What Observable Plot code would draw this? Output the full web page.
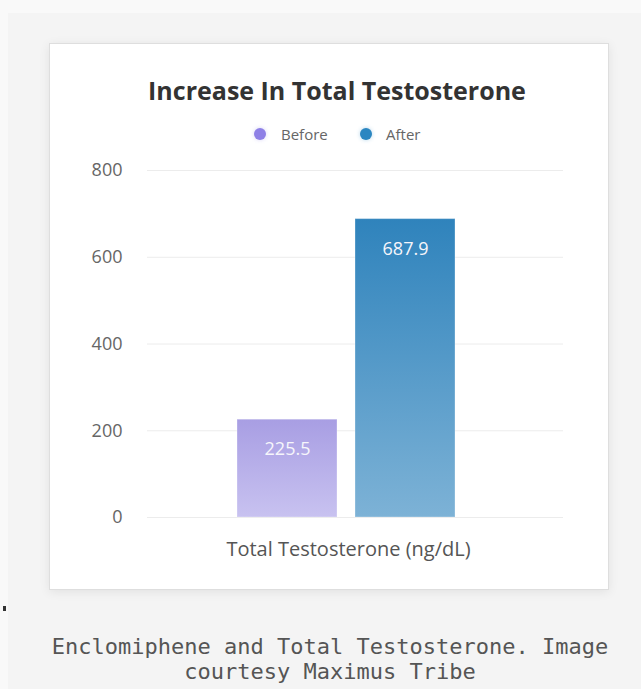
<!DOCTYPE html>
<html>
<head>
<meta charset="utf-8">
<script src="https://cdn.jsdelivr.net/npm/d3@7"></script>
<script src="https://cdn.jsdelivr.net/npm/@observablehq/plot@0.6"></script>
<style>
  html, body { margin: 0; padding: 0; }
  body {
    width: 641px; height: 689px; overflow: hidden; position: relative;
    background: #f9f9f9; font-family: "Open Sans", sans-serif;
  }
  .panel { position: absolute; left: 8px; top: 13px; right: 0; bottom: 0; background: #f4f4f4; }
  .card {
    position: absolute; left: 49px; top: 43px; width: 558px; height: 545px;
    background: #fff; border: 1px solid #dedede;
    box-shadow: 0 2px 10px rgba(0, 0, 0, 0.08);
  }
  .title {
    position: absolute; left: 137px; width: 400px; top: 75px; line-height: 30px;
    text-align: center; font-size: 25px; font-weight: 700; color: #333;
  }
  .legend-item {
    position: absolute; top: 124px; line-height: 20px; font-size: 15px; color: #666;
  }
  .legend-dot {
    position: absolute; width: 12px; height: 12px; border-radius: 50%; top: 128px;
  }
  #chart { position: absolute; left: 50px; top: 150px; }
  .caption {
    position: absolute; left: 30px; width: 600px; top: 634px; line-height: 25px;
    text-align: center; font-family: "DejaVu Sans Mono", monospace; font-size: 22px; color: #555;
  }
  .mark { position: absolute; left: 3px; top: 606px; width: 3px; height: 5px; background: #333; }
</style>
</head>
<body>
<div class="panel"></div>
<div class="mark"></div>
<div class="card"></div>
<div class="title">Increase In Total Testosterone</div>
<div id="legend"></div>
<div id="chart"></div>
<div class="caption">Enclomiphene and Total Testosterone. Image<br>courtesy Maximus Tribe</div>
<script>
// Chart data
const categories = ["Total Testosterone (ng/dL)"];
const series = ["Before", "After"];
const values = [225.5, 687.9];
const yTicks = [0, 200, 400, 600, 800];

// Series colours: solid swatch plus top/bottom gradient stops for the bars
const swatch = { Before: "#8e80e6", After: "#2b86c1" };
const gradTop = { Before: "#a89ee3", After: "#2f83bc" };
const gradBottom = { Before: "#c8c2f0", After: "#7db2d6" };

const rows = series.map((s, i) => ({ category: categories[0], series: s, value: values[i] }));

// Legend (HTML, above the plot)
const legend = document.getElementById("legend");
const legendPos = { Before: { dot: 254, text: 281 }, After: { dot: 360, text: 386 } };
series.forEach(s => {
  const dot = document.createElement("div");
  dot.className = "legend-dot";
  dot.style.left = legendPos[s].dot + "px";
  dot.style.background = swatch[s];
  dot.style.boxShadow = `0 0 4px ${swatch[s]}55`;
  legend.appendChild(dot);
  const label = document.createElement("div");
  label.className = "legend-item";
  label.style.left = legendPos[s].text + "px";
  label.textContent = s;
  legend.appendChild(label);
});

const chart = Plot.plot({
  width: 558,
  height: 425,
  marginTop: 20,
  marginBottom: 58,
  marginLeft: 97,
  marginRight: 45,
  style: { background: "transparent", fontFamily: "'Open Sans', sans-serif", color: "#666", overflow: "visible" },
  fx: { domain: categories, padding: 0, label: null },
  x: { domain: series, paddingInner: 0.15, paddingOuter: 0.83, align: 0.455, axis: null },
  y: { domain: [0, 800], label: null },
  color: { domain: series, range: series.map(s => `url(#grad-${s})`) },
  marks: [
    Plot.gridY(yTicks, { stroke: "#ececec", strokeOpacity: 1 }),
    Plot.axisY(yTicks, { tickSize: 0, tickPadding: 25, fontSize: 18, fill: "#666", label: null }),
    Plot.axisFx({ anchor: "bottom", tickSize: 0, tickPadding: 24, fontSize: 20, fill: "#555", label: null, dx: -7 }),
    Plot.barY(rows, { fx: "category", x: "series", y: "value", fill: "series", stroke: "white", strokeOpacity: 0.3 }),
    Plot.text(rows, {
      fx: "category", x: "series", y: "value",
      text: d => d.value.toFixed(1), dy: 30, fill: "#f6f6fb", fontSize: 18
    })
  ]
});

// Vertical gradients referenced by the colour scale range
const defs = d3.select(chart).insert("defs", ":first-child");
series.forEach(s => {
  const g = defs.append("linearGradient")
    .attr("id", `grad-${s}`).attr("x1", 0).attr("y1", 0).attr("x2", 0).attr("y2", 1);
  g.append("stop").attr("offset", "0%").attr("stop-color", gradTop[s]);
  g.append("stop").attr("offset", "100%").attr("stop-color", gradBottom[s]);
});

document.getElementById("chart").appendChild(chart);
</script>
</body>
</html>
